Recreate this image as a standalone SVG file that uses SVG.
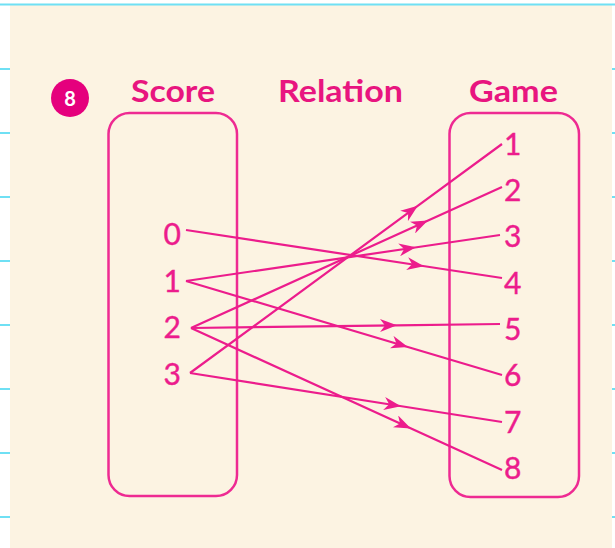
<svg xmlns="http://www.w3.org/2000/svg" width="615" height="548" viewBox="0 0 615 548">
<defs>
<style>
.bg{fill:#FCF3E2}
.tick{stroke:#6FE0F4;stroke-width:2}
.box{fill:none;stroke:#EE2A92;stroke-width:2.5}
.hd{font-family:Lato,"Open Sans",sans-serif;font-weight:700;font-size:30px;fill:#E8157F}
.num{font-family:Lato,"Open Sans",sans-serif;font-size:30px;fill:#EC1C8C;stroke:#EC1C8C;stroke-width:0.4}
.conn path{fill:none;stroke:#EC1C8C;stroke-width:2.2;marker-mid:url(#ah)}
</style>
<marker id="ah" viewBox="0 0 17 13" refX="16" refY="6.5" markerWidth="17" markerHeight="13" markerUnits="userSpaceOnUse" orient="auto">
<path d="M0,0 L17,6.5 L0,13 L5,6.5 Z" fill="#EC1C8C"/>
</marker>
</defs>
<rect x="0" y="0" width="615" height="548" fill="#FFFFFF"/>
<rect class="bg" x="10" y="5" width="602" height="543"/>
<line class="tick" x1="0" y1="4.5" x2="615" y2="4.5"/>
<g id="ticks">
<line class="tick" x1="0" y1="69" x2="10" y2="69"/>
<line class="tick" x1="0" y1="133" x2="10" y2="133"/>
<line class="tick" x1="0" y1="197" x2="10" y2="197"/>
<line class="tick" x1="0" y1="261" x2="10" y2="261"/>
<line class="tick" x1="0" y1="325" x2="10" y2="325"/>
<line class="tick" x1="0" y1="389" x2="10" y2="389"/>
<line class="tick" x1="0" y1="453" x2="10" y2="453"/>
<line class="tick" x1="0" y1="517" x2="10" y2="517"/>
<line class="tick" x1="612" y1="69" x2="615" y2="69"/>
<line class="tick" x1="612" y1="133" x2="615" y2="133"/>
<line class="tick" x1="612" y1="197" x2="615" y2="197"/>
<line class="tick" x1="612" y1="261" x2="615" y2="261"/>
<line class="tick" x1="612" y1="325" x2="615" y2="325"/>
<line class="tick" x1="612" y1="389" x2="615" y2="389"/>
<line class="tick" x1="612" y1="453" x2="615" y2="453"/>
<line class="tick" x1="612" y1="517" x2="615" y2="517"/>
</g>
<g id="badge">
<circle cx="70" cy="98" r="19" fill="#E5007D"/>
<text x="70" y="105.5" text-anchor="middle" font-family="Lato,'Open Sans',sans-serif" font-weight="700" font-size="20" fill="#FFFFFF">8</text>
</g>
<g id="headers">
<text class="hd" x="131" y="102" textLength="84" lengthAdjust="spacingAndGlyphs">Score</text>
<text class="hd" x="278" y="102" textLength="125" lengthAdjust="spacingAndGlyphs">Relation</text>
<text class="hd" x="469" y="102" textLength="89" lengthAdjust="spacingAndGlyphs">Game</text>
</g>
<g id="score">
<rect class="box" x="108.5" y="113" width="128.5" height="383" rx="21"/>
<text class="num" x="181" y="245" text-anchor="end">0</text>
<text class="num" x="181" y="292" text-anchor="end">1</text>
<text class="num" x="181" y="338" text-anchor="end">2</text>
<text class="num" x="181" y="385" text-anchor="end">3</text>
</g>
<g id="game">
<rect class="box" x="449.5" y="113" width="129.5" height="384" rx="21"/>
<text class="num" x="504" y="155">1</text>
<text class="num" x="504" y="201">2</text>
<text class="num" x="504" y="247">3</text>
<text class="num" x="504" y="294">4</text>
<text class="num" x="504" y="340">5</text>
<text class="num" x="504" y="386">6</text>
<text class="num" x="504" y="433">7</text>
<text class="num" x="504" y="479">8</text>
</g>
<g id="connectors" class="conn">
<path d="M186,230 L423,266 L502,278"/>
<path d="M186,281 L415,247.5 L500,235"/>
<path d="M186,281 L407,346.7 L502,375"/>
<path d="M191,328 L427,221 L502,187"/>
<path d="M191,328 L396,325.3 L500,324"/>
<path d="M191,328 L410,428 L502,470"/>
<path d="M190,373 L417,206.4 L502,144"/>
<path d="M190,373 L400,406 L502,422"/>
</g>
</svg>
